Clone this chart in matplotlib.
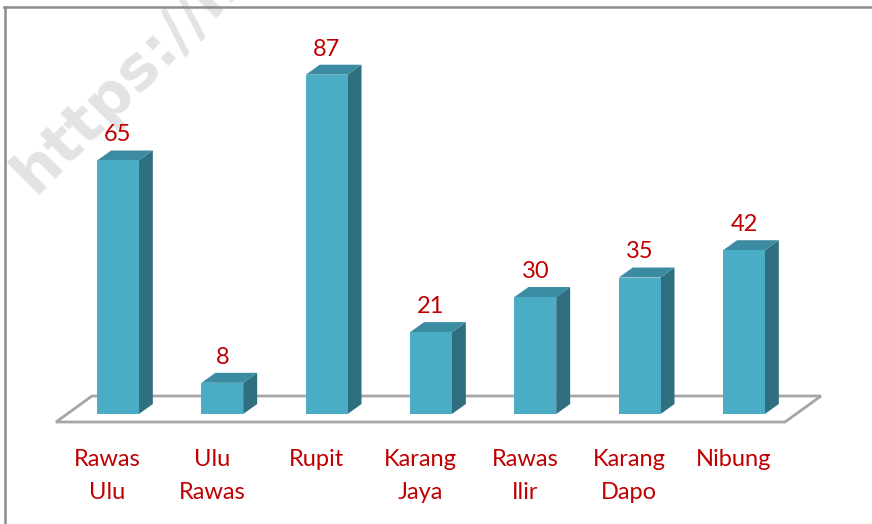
import matplotlib
matplotlib.use("Agg")
import matplotlib.pyplot as plt
from matplotlib.patches import Polygon, Rectangle
from matplotlib.lines import Line2D

# ----------------------
# Data
# ----------------------
categories = ["Rawas Ulu", "Ulu Rawas", "Rupit", "Karang Jaya",
              "Rawas Ilir", "Karang Dapo", "Nibung"]
label_lines = [["Rawas", "Ulu"], ["Ulu", "Rawas"], ["Rupit"], ["Karang", "Jaya"],
               ["Rawas", "Ilir"], ["Karang", "Dapo"], ["Nibung"]]
values = [65, 8, 87, 21, 30, 35, 42]

# ----------------------
# Style
# ----------------------
front_col = "#4BACC6"
side_col = "#2F6F80"
top_col = "#3B8CA2"
red = "#C00000"
plt.rcParams["font.family"] = ["Lato", "DejaVu Sans"]

bar_w = 0.40      # front face width (category units)
dx, dy = 0.134, 2.56   # bar depth offset (x units, value units)
fdx, fdy = 0.345, 6.67  # floor depth offset

fig = plt.figure(figsize=(8.72, 5.24), dpi=100)
ax = fig.add_axes([0, 0, 1, 1])
ax.set_xlim(-1.131, 7.227)
ax.set_ylim(-28.2, 106.15)
ax.axis("off")
ax.patch.set_visible(False)

# watermark (cut off by the top edge, as in the source image)
fig.text(0.040, 0.628, "https://m", rotation=45, rotation_mode="anchor",
         ha="left", va="baseline", fontsize=44, fontweight="bold",
         color="#e3e3e3", family="DejaVu Sans", zorder=-1)

# frame (top and left edges)
fig.add_artist(Line2D([4 / 872, 1], [1 - 6.5 / 524] * 2, color="#8c8c8c", lw=1.8))
fig.add_artist(Line2D([4.5 / 872] * 2, [0, 1 - 6.5 / 524], color="#8c8c8c", lw=1.8))

# floor
n = len(values)
x0, x1 = -0.594, n - 1 + 0.393
y0 = -2.05
floor = Polygon([(x0, y0), (x1, y0), (x1 + fdx, y0 + fdy), (x0 + fdx, y0 + fdy)],
                closed=True, facecolor="white", edgecolor="#a6a6a6", lw=2, zorder=1)
ax.add_patch(floor)

# bars
for i, v in enumerate(values):
    l, r = i - bar_w / 2, i + bar_w / 2
    ax.add_patch(Polygon([(r, 0), (r + dx, dy), (r + dx, v + dy), (r, v)],
                         closed=True, facecolor=side_col, edgecolor="none", zorder=2))
    ax.add_patch(Polygon([(l, v), (r, v), (r + dx, v + dy), (l + dx, v + dy)],
                         closed=True, facecolor=top_col, edgecolor="none", zorder=2))
    ax.add_patch(Rectangle((l, 0), bar_w, v, facecolor=front_col,
                           edgecolor="none", zorder=3))
    ax.text(i, v + 4.9, str(v), ha="center", va="baseline",
            fontsize=17, color=red, zorder=4)

# category labels
for i, lines in enumerate(label_lines):
    for k, line in enumerate(lines):
        ax.text(i - 0.1, -13.3 - 8.5 * k, line, ha="center", va="baseline",
                fontsize=17, color=red)

fig.savefig("out.png", dpi=100)
